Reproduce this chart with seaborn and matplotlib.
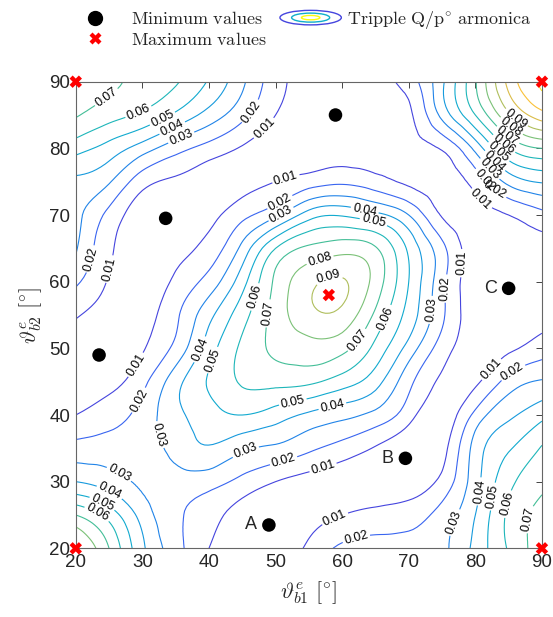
import matplotlib
matplotlib.use("Agg")
import matplotlib.pyplot as plt
import matplotlib.tri as mtri
import numpy as np
import seaborn as sns
from matplotlib.colors import LinearSegmentedColormap
from matplotlib.legend_handler import HandlerBase
from matplotlib.lines import Line2D
from matplotlib.patches import Ellipse

# grid of angles (deg) and values
theta_b1 = [20, 25, 30, 35, 40, 45, 50, 55, 60, 65, 70, 75, 80, 85, 90]
theta_b2 = [20, 25, 30, 35, 40, 45, 50, 55, 60, 65, 70, 75, 80, 85, 90]
# one row per theta_b2 value (bottom -> top), columns follow theta_b1
ripple = [
    [0.092, 0.070, 0.042, 0.024, 0.010, 0.005, 0.004, 0.012, 0.022, 0.024, 0.025, 0.028, 0.043, 0.061, 0.076],
    [0.070, 0.056, 0.036, 0.022, 0.014, 0.005, 0.001, 0.005, 0.010, 0.013, 0.015, 0.024, 0.040, 0.062, 0.073],
    [0.040, 0.035, 0.028, 0.026, 0.024, 0.017, 0.010, 0.006, 0.004, 0.003, 0.004, 0.013, 0.036, 0.057, 0.068],
    [0.024, 0.025, 0.027, 0.033, 0.039, 0.032, 0.028, 0.022, 0.016, 0.009, 0.001, 0.006, 0.034, 0.049, 0.061],
    [0.010, 0.015, 0.024, 0.037, 0.046, 0.050, 0.045, 0.038, 0.033, 0.027, 0.014, 0.004, 0.023, 0.038, 0.047],
    [0.006, 0.007, 0.017, 0.036, 0.051, 0.061, 0.063, 0.062, 0.055, 0.044, 0.023, 0.008, 0.008, 0.024, 0.031],
    [0.006, 0.001, 0.009, 0.023, 0.045, 0.062, 0.072, 0.076, 0.073, 0.057, 0.036, 0.015, 0.005, 0.008, 0.015],
    [0.011, 0.005, 0.006, 0.018, 0.037, 0.056, 0.074, 0.087, 0.087, 0.068, 0.046, 0.022, 0.004, 0.002, 0.006],
    [0.022, 0.009, 0.003, 0.012, 0.024, 0.046, 0.072, 0.087, 0.091, 0.076, 0.050, 0.023, 0.003, 0.000, 0.003],
    [0.031, 0.012, 0.004, 0.006, 0.014, 0.033, 0.060, 0.072, 0.076, 0.071, 0.048, 0.023, 0.004, 0.003, 0.006],
    [0.033, 0.017, 0.004, 0.001, 0.006, 0.017, 0.028, 0.045, 0.049, 0.043, 0.030, 0.009, 0.005, 0.010, 0.017],
    [0.038, 0.031, 0.014, 0.008, 0.004, 0.006, 0.010, 0.015, 0.018, 0.014, 0.008, 0.005, 0.014, 0.033, 0.041],
    [0.054, 0.046, 0.035, 0.024, 0.016, 0.009, 0.005, 0.004, 0.005, 0.005, 0.006, 0.011, 0.033, 0.060, 0.070],
    [0.071, 0.064, 0.058, 0.048, 0.036, 0.023, 0.010, 0.004, 0.001, 0.004, 0.008, 0.033, 0.060, 0.088, 0.106],
    [0.076, 0.072, 0.067, 0.061, 0.049, 0.032, 0.014, 0.006, 0.004, 0.006, 0.015, 0.038, 0.069, 0.103, 0.122],
]
levels = [0.01, 0.02, 0.03, 0.04, 0.05, 0.06, 0.07, 0.08, 0.09, 0.10, 0.11, 0.12]

min_x = [49, 69.5, 85, 59, 33.5, 23.5]
min_y = [23.5, 33.5, 59, 85, 69.5, 49]
max_x = [58, 20, 20, 90, 90]
max_y = [58, 20, 90, 20, 90]
point_names = ['A', 'B', 'C']

# where the contour labels sit in the reference
label_spots = [
    (25.1, 87.0), (29.4, 85.5), (33.1, 84.3), (34.6, 82.8), (36.1, 81.0),
    (46.6, 85.3), (48.5, 82.8), (22.6, 63.3), (25.4, 61.8),
    (51.6, 75.3), (50.6, 72.0), (50.9, 70.0), (63.4, 70.8), (64.6, 68.5),
    (56.6, 63.5), (58.1, 60.3), (46.6, 57.8), (48.4, 55.3), (66.6, 54.5),
    (61.9, 51.5), (72.6, 55.8), (74.9, 59.0), (77.1, 62.8),
    (38.3, 50.0), (40.4, 48.3), (29.4, 47.3), (29.9, 42.0), (32.4, 37.0),
    (52.6, 41.9), (58.4, 41.9), (45.6, 34.3), (51.1, 33.5), (56.9, 33.0),
    (81.9, 47.3), (85.4, 46.8), (80.9, 28.5), (82.4, 27.8), (84.1, 26.8),
    (86.4, 24.5), (75.4, 24.5), (59.1, 24.0), (61.9, 22.3),
    (26.7, 31.5), (25.1, 28.5), (23.9, 26.6), (23.2, 25.2),
    (86.1, 84.5), (85.4, 83.3), (84.9, 82.0), (84.4, 80.8), (83.7, 79.7),
    (83.3, 78.5), (82.8, 77.5), (82.3, 76.0), (81.6, 74.3), (80.4, 72.0),
]

# parula-like colormap
parula = LinearSegmentedColormap.from_list('parula', [
    (0.000, (0.242, 0.150, 0.660)),
    (0.111, (0.281, 0.323, 0.958)),
    (0.222, (0.140, 0.500, 0.920)),
    (0.333, (0.080, 0.620, 0.860)),
    (0.444, (0.060, 0.700, 0.780)),
    (0.556, (0.250, 0.745, 0.600)),
    (0.667, (0.560, 0.760, 0.420)),
    (0.778, (0.820, 0.730, 0.300)),
    (0.889, (0.990, 0.760, 0.220)),
    (1.000, (0.976, 0.983, 0.054)),
])

sns.set_style('white')
plt.rcParams['font.family'] = ['Liberation Sans', 'DejaVu Sans']
plt.rcParams['mathtext.fontset'] = 'cm'

fig = plt.figure(figsize=(5.53, 6.17), dpi=100)
ax = fig.add_axes([0.137, 0.1113, 0.843, 0.7563])

# split every grid cell along its rising diagonal
nx, ny = len(theta_b1), len(theta_b2)
cells = []
for j in range(ny - 1):
    for i in range(nx - 1):
        a = j * nx + i
        cells.append([a, a + 1, a + nx + 1])
        cells.append([a, a + nx + 1, a + nx])
gx, gy = np.meshgrid(theta_b1, theta_b2)
gz = np.array(ripple)
tri = mtri.Triangulation(gx.ravel(), gy.ravel(), cells)
interp = mtri.CubicTriInterpolator(tri, gz.ravel(), kind='min_E')
tri_f, z_f = mtri.UniformTriRefiner(tri).refine_field(gz.ravel(), interp, subdiv=3)

cs = ax.tricontour(tri_f, z_f, levels=levels, cmap=parula, vmin=0, vmax=0.125, linewidths=0.8)
ax.clabel(cs, manual=label_spots, fmt=lambda v: f'{v:g}', fontsize=9, inline=True,
          inline_spacing=2, colors='k')

sns.scatterplot(x=min_x, y=min_y, ax=ax, color='black', s=95, edgecolor='none', zorder=5)
sns.scatterplot(x=max_x, y=max_y, ax=ax, color='red', marker='X', s=80, edgecolor='none',
                zorder=6, clip_on=False)
for name, x, y in zip(point_names, min_x, min_y):
    ax.text(x - 1.8, y, name, fontsize=13, ha='right', va='center')

ax.set_xlim(20, 90)
ax.set_ylim(20, 90)
ax.set_xticks([20, 30, 40, 50, 60, 70, 80, 90])
ax.set_yticks([20, 30, 40, 50, 60, 70, 80, 90])
ax.tick_params(direction='in', top=True, right=True, length=4, width=0.6,
               labelsize=13.5, colors='#262626', pad=4)
for sp in ax.spines.values():
    sp.set_color('#666666')
    sp.set_linewidth(0.8)
ax.set_xlabel(r'$\vartheta^{e}_{b1}\ [^{\circ}]$', fontsize=16, color='#262626', labelpad=6)
ax.set_ylabel(r'$\vartheta^{e}_{b2}\ [^{\circ}]$', fontsize=16, color='#262626')


class ContourIcon(HandlerBase):
    def create_artists(self, legend, orig_handle, xdescent, ydescent, width, height, fontsize, trans):
        cx = width / 2 - xdescent
        cy = height / 2 - ydescent
        out = []
        for frac, col in [(1.0, parula(0.08)), (0.62, parula(0.42)), (0.3, parula(1.0))]:
            out.append(Ellipse((cx, cy), width * frac, height * 1.15 * frac, fill=False,
                               edgecolor=col, lw=1.0, transform=trans))
        return out


h_min = Line2D([], [], ls='none', marker='o', color='black', markersize=10)
h_max = Line2D([], [], ls='none', marker='X', color='red', markeredgecolor='none', markersize=9)
h_con = Line2D([], [])
fig.legend([h_min, h_max, h_con],
           [r'$\mathrm{Minimum\ values}$', r'$\mathrm{Maximum\ values}$',
            r'$\mathrm{Tripple\ Q/p^{\circ}\ armonica}$'],
           handler_map={h_con: ContourIcon()}, ncol=2, loc='upper left',
           bbox_to_anchor=(0.093, 1.006), frameon=False, fontsize=13,
           handlelength=3.4, handletextpad=0.3, columnspacing=0.75,
           labelspacing=0.2, borderpad=0.2)

fig.savefig('out.png', dpi=100)
